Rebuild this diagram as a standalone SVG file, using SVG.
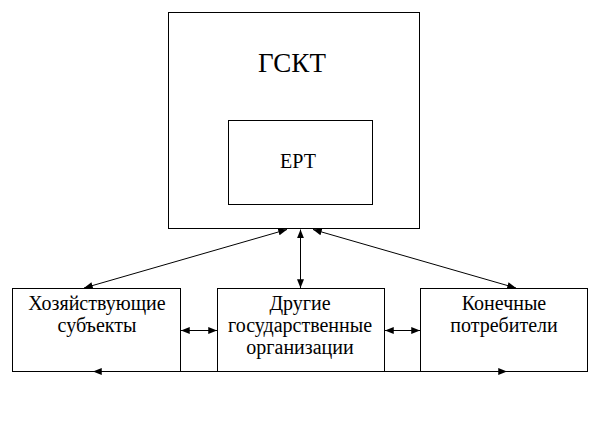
<svg xmlns="http://www.w3.org/2000/svg" width="589" height="421" viewBox="0 0 589 421">
<style>
.box{fill:#fff;stroke:#000;stroke-width:1}
.t{fill:#000;text-anchor:middle;font-family:"Times New Roman","Liberation Serif","DejaVu Serif",serif}
.c{stroke:#000;stroke-width:1;fill:none;marker-start:url(#ah);marker-end:url(#ah)}
</style>
<defs>
<marker id="ah" viewBox="0 0 10 8" refX="10" refY="4" markerWidth="9" markerHeight="7" markerUnits="userSpaceOnUse" orient="auto-start-reverse">
<path d="M0,0 L10,4 L0,8 Z" fill="#000"/>
</marker>
</defs>
<rect width="589" height="421" fill="#fff"/>
<g id="gskt">
<rect class="box" x="168.5" y="12.5" width="251" height="216"/>
<text class="t" x="292" y="72" font-size="27">ГСКТ</text>
</g>
<g id="ert">
<rect class="box" x="228.5" y="120.5" width="144" height="84"/>
<text class="t" x="298" y="168" font-size="20">ЕРТ</text>
</g>
<g id="subjects">
<rect class="box" x="12.5" y="288.5" width="168" height="83"/>
<text class="t" x="97" y="310" font-size="20">Хозяйствующие</text>
<text class="t" x="97" y="332" font-size="20">субъекты</text>
</g>
<g id="other">
<rect class="box" x="217.5" y="288.5" width="167" height="83"/>
<text class="t" x="300" y="310" font-size="20">Другие</text>
<text class="t" x="300" y="332" font-size="20">государственные</text>
<text class="t" x="300" y="354" font-size="20">организации</text>
</g>
<g id="consumers">
<rect class="box" x="420.5" y="288.5" width="167" height="83"/>
<text class="t" x="504" y="310" font-size="20">Конечные</text>
<text class="t" x="504" y="332" font-size="20">потребители</text>
</g>
<g id="connectors">
<line class="c" x1="287" y1="229.5" x2="84" y2="288"/>
<line class="c" x1="300.5" y1="229.5" x2="300.5" y2="288"/>
<line class="c" x1="313" y1="229.5" x2="516" y2="288"/>
<line class="c" x1="181" y1="330.5" x2="217" y2="330.5"/>
<line class="c" x1="385" y1="330.5" x2="420" y2="330.5"/>
<line class="c" x1="93" y1="371.5" x2="507" y2="371.5"/>
</g>
</svg>
